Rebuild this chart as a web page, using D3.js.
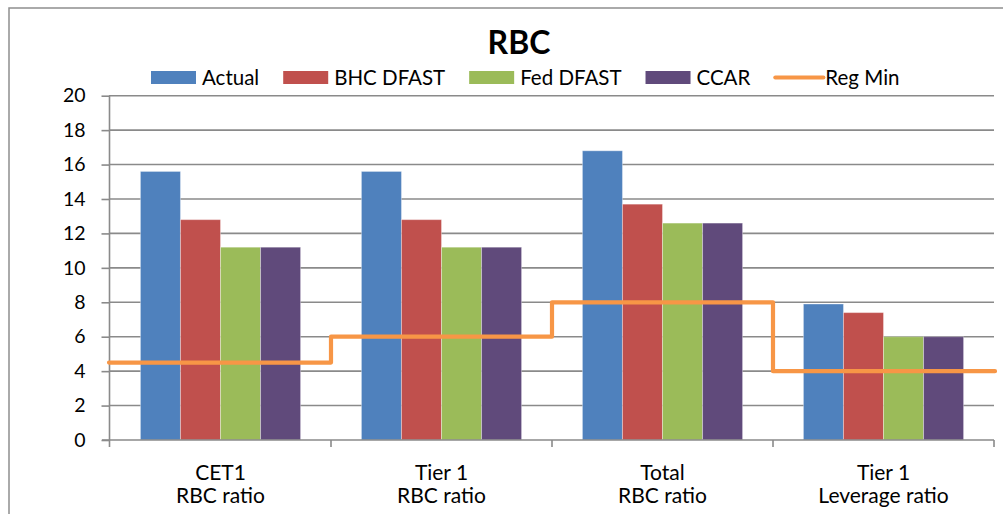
<!DOCTYPE html>
<html><head><meta charset="utf-8">
<script src="https://cdn.jsdelivr.net/npm/d3@7"></script>
<style>
html,body{margin:0;padding:0;background:#fff;}
svg{display:block;font-family:Lato,"Open Sans",sans-serif;}
</style></head>
<body><svg id="c" width="1003" height="514"></svg>
<script>
const categories = [["CET1","RBC ratio"],["Tier 1","RBC ratio"],["Total","RBC ratio"],["Tier 1","Leverage ratio"]];
const seriesNames = ["Actual","BHC DFAST","Fed DFAST","CCAR"];
const actual   = [15.6, 15.6, 16.8, 7.9];
const bhcDfast = [12.8, 12.8, 13.7, 7.4];
const fedDfast = [11.2, 11.2, 12.6, 6.0];
const ccar     = [11.2, 11.2, 12.6, 6.0];
const regMin   = [4.5, 6, 8, 4];
const yTicks   = [0,2,4,6,8,10,12,14,16,18,20];
const colors   = ["#4F81BD","#C0504D","#9BBB59","#604A7B"];
const lineColor = "#F79646";

(function(){
const series = [actual, bhcDfast, fedDfast, ccar];
const svg = d3.select("#c");
const gridColor = "#8a8a8a";

// chart border
svg.append("rect").attr("x",9).attr("y",8).attr("width",1003).attr("height",520)
  .attr("fill","#fff").attr("stroke","#8f8f8f").attr("stroke-width",1.5);

const pL = 110, pR = 994, pT = 95.7, pB = 440;
const catKeys = categories.map((c,i)=>i);
const x0 = d3.scaleBand().domain(catKeys).range([pL,pR]).paddingInner(0).paddingOuter(0);
const x1 = d3.scaleBand().domain(d3.range(series.length)).range([0,x0.bandwidth()]).paddingInner(0).paddingOuter(0.76);
const y = d3.scaleLinear().domain([0,20]).range([pB,pT]);

// gridlines
svg.append("g").selectAll("line").data(yTicks.filter(t=>t>0)).join("line")
  .attr("x1",pL-1).attr("x2",pR).attr("y1",d=>y(d)).attr("y2",d=>y(d))
  .attr("stroke",gridColor).attr("stroke-width",1.6);

// y axis
const yAxis = svg.append("g").attr("transform",`translate(${pL-0.5},0)`)
  .call(d3.axisLeft(y).tickValues(yTicks).tickSize(8).tickPadding(16).tickFormat(d3.format("d")));
yAxis.select(".domain").remove();
yAxis.selectAll(".tick line").attr("stroke",gridColor).attr("stroke-width",1.6);
yAxis.selectAll("text").attr("font-size",19.5).attr("fill","#000").attr("font-family","Lato");
svg.append("line").attr("x1",pL-0.5).attr("x2",pL-0.5).attr("y1",pT).attr("y2",pB+7)
  .attr("stroke",gridColor).attr("stroke-width",1.6);

// bars
const groups = svg.append("g").selectAll("g").data(catKeys).join("g")
  .attr("transform",d=>`translate(${x0(d)},0)`);
groups.selectAll("rect").data(ci=>series.map((s,si)=>({si,v:s[ci]}))).join("rect")
  .attr("x",d=>x1(d.si)).attr("width",x1.bandwidth())
  .attr("y",d=>y(d.v)).attr("height",d=>y(0)-y(d.v))
  .attr("fill",d=>colors[d.si])
  .attr("stroke","rgba(255,255,255,0.35)").attr("stroke-width",1);

// x axis
svg.append("line").attr("x1",pL-8).attr("x2",pR).attr("y1",pB).attr("y2",pB)
  .attr("stroke",gridColor).attr("stroke-width",1.6);
const bounds = catKeys.map(k=>x0(k)).concat([pR]);
svg.append("g").selectAll("line").data(bounds.slice(1)).join("line")
  .attr("x1",d=>d).attr("x2",d=>d).attr("y1",pB).attr("y2",pB+7)
  .attr("stroke",gridColor).attr("stroke-width",1.6);

// category labels
const lab = svg.append("g").selectAll("text").data(catKeys).join("text")
  .attr("x",d=>x0(d)+x0.bandwidth()/2).attr("y",479.5)
  .attr("text-anchor","middle").attr("font-size",21).attr("fill","#000");
lab.append("tspan").attr("x",d=>x0(d)+x0.bandwidth()/2).text(d=>categories[d][0]);
lab.append("tspan").attr("x",d=>x0(d)+x0.bandwidth()/2).attr("dy",23).text(d=>categories[d][1]);

// reg min step line
const pts = regMin.map((v,i)=>[i===0?pL-1:x0(i), y(v)]);
pts.push([pR+1, y(regMin[regMin.length-1])]);
svg.append("path").attr("d",d3.line().curve(d3.curveStepAfter)(pts))
  .attr("fill","none").attr("stroke",lineColor).attr("stroke-width",4.2).attr("stroke-linejoin","round").attr("stroke-linecap","round");

// title
svg.append("text").attr("x",519).attr("y",54).attr("text-anchor","middle")
  .attr("font-size",32).attr("font-weight","bold").attr("fill","#000").text("RBC");

// legend
const legend = svg.append("g");
let lx = 151;
const items = seriesNames.map((n,i)=>({n,type:"bar",c:colors[i]})).concat([{n:"Reg Min",type:"line",c:lineColor}]);
items.forEach(it=>{
  if(it.type==="bar"){
    legend.append("rect").attr("x",lx).attr("y",71).attr("width",45).attr("height",13).attr("fill",it.c);
  } else {
    legend.append("line").attr("x1",lx+1).attr("x2",lx+49).attr("y1",77.5).attr("y2",77.5)
      .attr("stroke",it.c).attr("stroke-width",4.2).attr("stroke-linecap","round");
  }
  const t = legend.append("text").attr("x",lx+51).attr("y",84.5).attr("font-size",20.5).attr("fill","#000").text(it.n);
  lx += 51 + t.node().getComputedTextLength() + 24;
});
})();
</script></body></html>
